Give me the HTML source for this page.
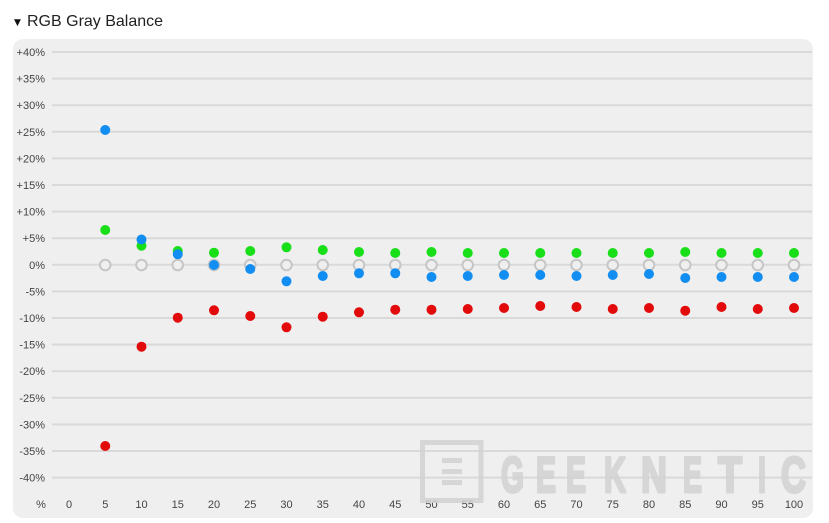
<!DOCTYPE html>
<html><head><meta charset="utf-8"><style>
html,body{margin:0;padding:0;background:#fff;}
svg{display:block;}
</style></head><body>
<svg width="829" height="523" viewBox="0 0 829 523" xmlns="http://www.w3.org/2000/svg" font-family="'Liberation Sans', Arial, sans-serif">
<rect x="0" y="0" width="829" height="523" fill="#ffffff"/>
<text x="14" y="25" font-family="'DejaVu Sans', sans-serif" font-size="9" fill="#111">▼</text>
<text x="27" y="26" font-size="16" fill="#222">RGB Gray Balance</text>
<rect x="13" y="39" width="800" height="479" rx="10" ry="10" fill="#efefef"/>
<g id="grid" stroke="#d9d9d9" stroke-width="2"></g>
<g id="ylabels" font-size="11" fill="#444" text-anchor="end"></g>
<g id="xlabels" font-size="11" fill="#444" text-anchor="middle"></g>
<!-- watermark -->
<g opacity="0.85">
<rect x="422.5" y="442.5" width="58.5" height="58" fill="none" stroke="#d2d2d2" stroke-width="5"/>
<rect x="442" y="458" width="20" height="5" fill="#d2d2d2"/>
<rect x="442" y="469" width="20" height="5" fill="#d2d2d2"/>
<rect x="442" y="480" width="20" height="5" fill="#d2d2d2"/>
<g font-weight="bold" font-size="50" fill="#d2d2d2" stroke="#d2d2d2" stroke-width="3" stroke-linejoin="round">
<text x="501" y="492" textLength="23" lengthAdjust="spacingAndGlyphs">G</text>
<text x="536" y="492" textLength="20" lengthAdjust="spacingAndGlyphs">E</text>
<text x="566" y="492" textLength="20" lengthAdjust="spacingAndGlyphs">E</text>
<text x="604" y="492" textLength="22" lengthAdjust="spacingAndGlyphs">K</text>
<text x="641" y="492" textLength="26" lengthAdjust="spacingAndGlyphs">N</text>
<text x="683" y="492" textLength="19" lengthAdjust="spacingAndGlyphs">E</text>
<text x="718" y="492" textLength="24" lengthAdjust="spacingAndGlyphs">T</text>
<text x="758" y="492" textLength="8" lengthAdjust="spacingAndGlyphs">I</text>
<text x="781" y="492" textLength="25" lengthAdjust="spacingAndGlyphs">C</text>
</g>
</g>
<g id="pts"></g>
<script>
(function(){
var ns="http://www.w3.org/2000/svg";
function el(t,a,p,txt){var e=document.createElementNS(ns,t);for(var k in a)e.setAttribute(k,a[k]);if(txt!==undefined)e.textContent=txt;p.appendChild(e);return e;}
var grid=document.getElementById('grid'),yl=document.getElementById('ylabels'),xl=document.getElementById('xlabels'),pts=document.getElementById('pts');
var y0=52,dy=26.6;
for(var i=0;i<=16;i++){
 var y=y0+i*dy;
 el('line',{x1:52,x2:812,y1:y,y2:y},grid);
 var v=40-5*i;
 var s=v>0?('+'+v+'%'):(v+'%');
 el('text',{x:45,y:y+4},yl,s);
}
el('text',{x:41,y:508},xl,'%');
for(var j=0;j<=20;j++){
 el('text',{x:69+j*36.25,y:508},xl,String(j*5));
}
var blue=[130,239.5,254.3,265,269,281.3,276,273.3,273.3,277,276,275,275,276,275,274,278,277,277,277];
var green=[230,245.7,251,252.7,251,247.3,250,252,253,252,253,253,253,253,253,253,252,253,253,253];
var red=[446,346.7,317.7,310.3,316,327.3,316.7,312.3,309.7,309.7,309,308,306,307,309,308,310.7,307,309,308];
for(var k=0;k<20;k++){
 var cx=69+(k+1)*36.25;
 el('circle',{cx:cx,cy:265,r:5.3,fill:'#efefef',stroke:'#c6c6c6','stroke-width':2},pts);
}
for(var k=0;k<20;k++){el('circle',{cx:69+(k+1)*36.25,cy:red[k],r:5,fill:'#e20a0a'},pts);}
for(var k=0;k<20;k++){el('circle',{cx:69+(k+1)*36.25,cy:green[k],r:5,fill:'#18df18'},pts);}
for(var k=0;k<20;k++){el('circle',{cx:69+(k+1)*36.25,cy:blue[k],r:5,fill:'#128ef2'},pts);}
})();
</script>
</svg>
</body></html>
